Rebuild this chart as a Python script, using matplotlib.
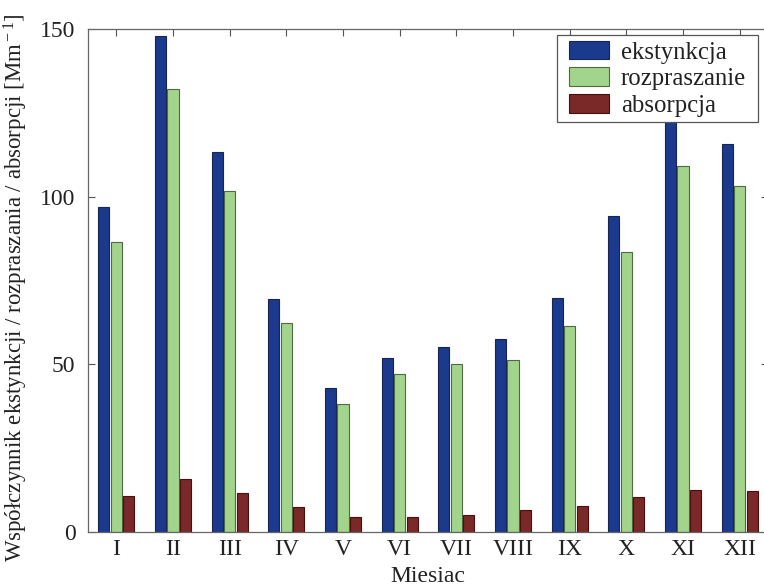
import matplotlib
matplotlib.use("Agg")
import matplotlib.pyplot as plt
from matplotlib.patches import Rectangle
import numpy as np

months = ["I", "II", "III", "IV", "V", "VI", "VII", "VIII", "IX", "X", "XI", "XII"]
ekstynkcja = [96.8, 148.0, 113.4, 69.5, 42.8, 52.0, 55.3, 57.6, 69.8, 94.2, 123.0, 115.7]
rozpraszanie = [86.6, 132.0, 101.7, 62.2, 38.1, 47.0, 50.0, 51.2, 61.5, 83.4, 109.2, 103.1]
absorpcja = [10.7, 15.8, 11.7, 7.6, 4.6, 4.6, 5.2, 6.5, 7.8, 10.5, 12.6, 12.2]
series_names = ["ekstynkcja", "rozpraszanie", "absorpcja"]

plt.rcParams['font.family'] = ['Liberation Serif', 'DejaVu Serif']
plt.rcParams['mathtext.fontset'] = 'custom'
plt.rcParams['mathtext.rm'] = 'Liberation Serif'
plt.rcParams['mathtext.it'] = 'Liberation Serif:italic'
W, H = 764, 586
fig = plt.figure(figsize=(W/100, H/100), dpi=100)
ax = fig.add_axes([88/W, 54/H, 680/W, 503/H])

x = np.arange(1, len(months) + 1)
bw = 0.195
off = 0.222
colors = ['#1b3a8e', '#a3d48c', '#7a2828']
edges = ['#1a2450', '#4d6a45', '#4a1010']
for i, (vals, c, e, name) in enumerate(zip([ekstynkcja, rozpraszanie, absorpcja], colors, edges, series_names)):
    ax.bar(x + (i - 1) * off, vals, width=bw, color=c, edgecolor=e, linewidth=0.8, label=name, zorder=2)

ax.set_xlim(0.5, 12.5)
ax.set_ylim(0, 150)
ax.set_yticks([0, 50, 100, 150])
ax.set_xticks(x)
ax.set_xticklabels(months)
ax.tick_params(direction='in', length=5, width=0.8, color='#555555', labelsize=17,
               labelcolor='#222222', top=True, right=True)
ax.tick_params(axis='y', pad=9)
ax.tick_params(axis='x', pad=5)
for s in ax.spines.values():
    s.set_color('#666666')
    s.set_linewidth(0.9)

ax.set_xlabel('Miesiac', fontsize=17, color='#222222', labelpad=4.5)
ax.set_ylabel('Współczynnik ekstynkcji / rozpraszania / absorpcji [Mm$^{\\rm -1}$]', fontsize=16.5,
              color='#222222')
ax.yaxis.set_label_coords(-(88 - 30) / 680, (532 - 288) / 503)

# legend frame
frame = Rectangle((557/W, 1 - 122/H), (758 - 557)/W, (122 - 35)/H, transform=fig.transFigure,
                  facecolor='white', edgecolor='#555555', linewidth=0.9, zorder=4, clip_on=False)
ax.add_patch(frame)
leg = ax.legend(loc='upper left', bbox_to_anchor=(569/W, 1 - 40.5/H), bbox_transform=fig.transFigure,
                borderaxespad=0, borderpad=0, fontsize=17.8, frameon=False,
                handlelength=1.6, handleheight=0.8, handletextpad=0.5, labelspacing=0.15)
leg.set_zorder(5)
for t in leg.get_texts():
    t.set_color('#222222')

fig.savefig('out.png', dpi=100)
